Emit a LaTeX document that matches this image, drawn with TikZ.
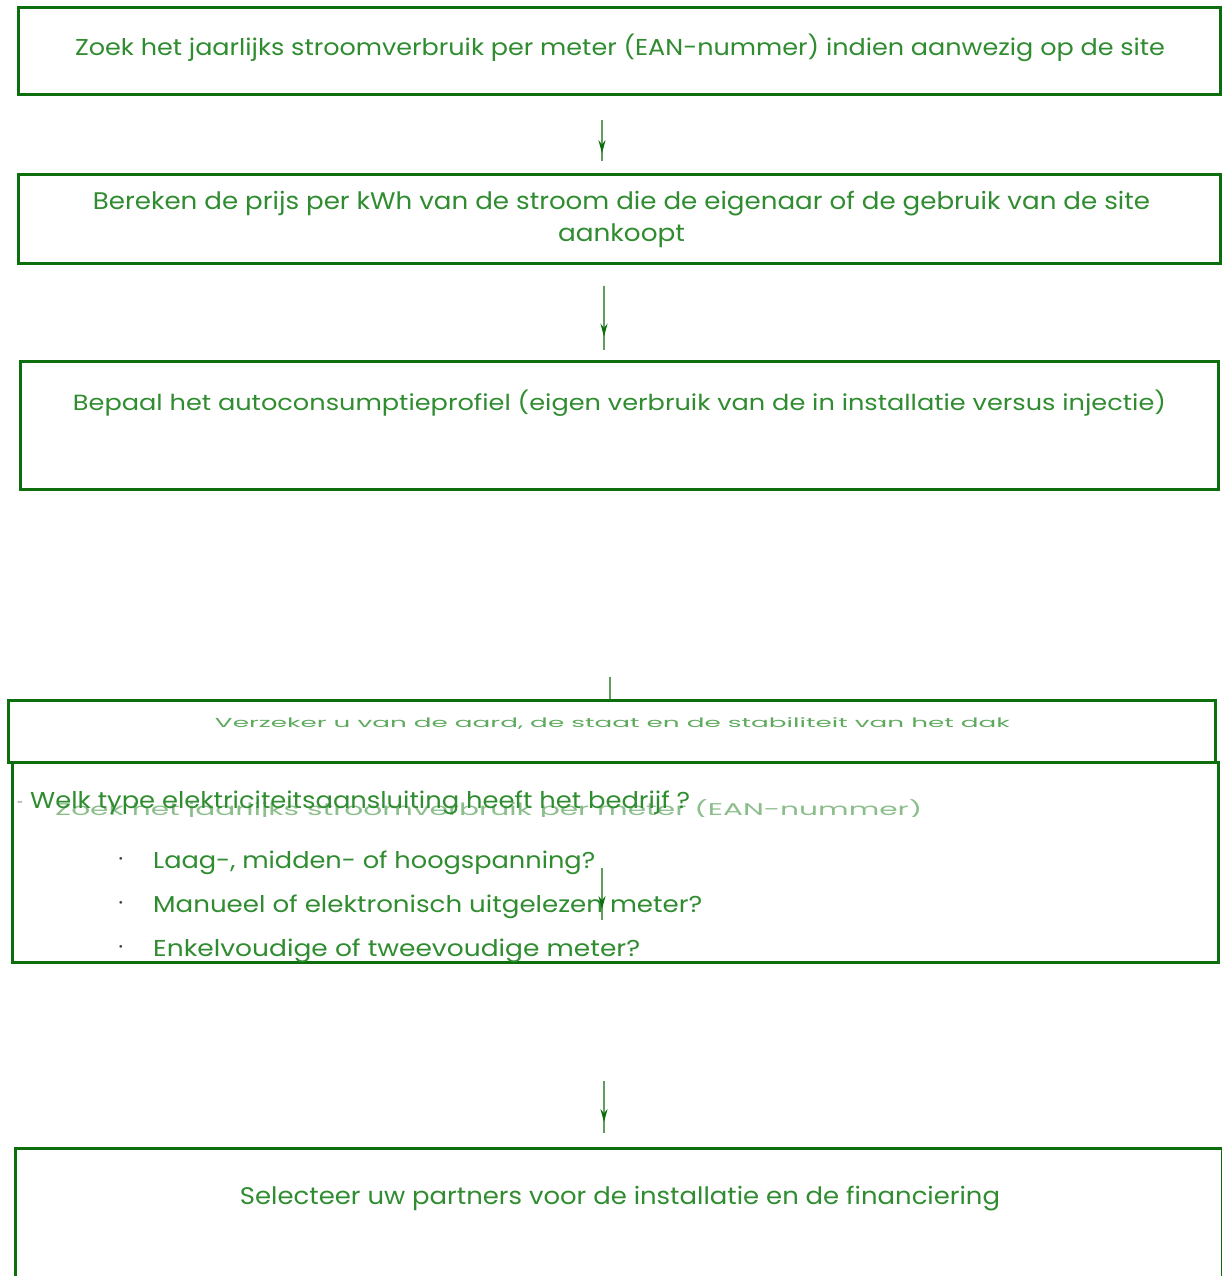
\documentclass[tikz,border=0pt]{standalone}
\usepackage{fontspec}
\setmainfont{Poppins}
\usetikzlibrary{arrows.meta,decorations.markings}
\definecolor{bordergreen}{RGB}{12,110,12}
\definecolor{textgreen}{RGB}{48,140,48}
\definecolor{palegreen}{RGB}{95,170,95}
\definecolor{fadegreen}{RGB}{140,190,140}
\definecolor{linegreen}{RGB}{95,158,95}
\newcommand{\fitto}[2]{\resizebox{#1}{\height}{#2}}
\tikzset{
  box/.style={draw=bordergreen, line width=3pt, rectangle, inner sep=0pt},
  txt/.style={text=textgreen, inner sep=0pt, anchor=base},
  conn/.style={draw=linegreen, line width=2pt, postaction={decorate},
    decoration={markings, mark=at position 0.8 with {\arrow[bordergreen]{Stealth[length=13pt,width=7pt]}}}},
  plainline/.style={draw=linegreen, line width=1.5pt},
  bul/.style={text=black!75, inner sep=0pt, anchor=base, font=\fontsize{11}{11}\selectfont},
}
\begin{document}
\begin{tikzpicture}[x=1pt,y=-1pt]
\useasboundingbox[fill=white] (0,0) rectangle (1221,1276);

% boxes
\node[box, minimum width=1202pt, minimum height=87pt]  (b1) at (619,51.5) {};
\node[box, minimum width=1202pt, minimum height=88pt]  (b2) at (619,219) {};
\node[box, minimum width=1198pt, minimum height=128pt] (b3) at (619,425) {};
\node[box, minimum width=1207pt, minimum height=62pt]  (b4) at (611.5,731) {};
\node[box, minimum width=1206pt, minimum height=200pt] (b5) at (615,862) {};
\node[box, minimum width=1207pt, minimum height=142pt] (b6) at (618.5,1219) {};

% texts
\node[txt, font=\fontsize{23}{23}\selectfont] (t1) at (620,56)
  {\fitto{1090pt}{Zoek het jaarlijks stroomverbruik per meter (EAN-nummer) indien aanwezig op de site}};
\node[txt, font=\fontsize{24}{24}\selectfont] (t2a) at (621.5,209)
  {\fitto{1057pt}{Bereken de prijs per kWh van de stroom die de eigenaar of de gebruik van de site}};
\node[txt, font=\fontsize{24}{24}\selectfont] (t2b) at (621.5,241)
  {\fitto{127pt}{aankoopt}};
\node[txt, font=\fontsize{22}{22}\selectfont] (t3) at (619.5,410)
  {\fitto{1093pt}{Bepaal het autoconsumptieprofiel (eigen verbruik van de in installatie versus injectie)}};
\node[txt, text=palegreen, font=\fontsize{13}{13}\selectfont] (t4) at (612.5,727)
  {\fitto{795pt}{Verzeker u van de aard, de staat en de stabiliteit van het dak}};

\begin{scope}
  \clip (0,790) rectangle (1221,816);
  \node[txt, anchor=base west, text=fadegreen, font=\fontsize{17}{17}\selectfont] (t5f) at (55,815)
    {\fitto{867pt}{Zoek het jaarlijks stroomverbruik per meter (EAN-nummer)}};
\end{scope}
\node[txt, anchor=base west, text=black!60, font=\fontsize{11}{11}\selectfont] (dash) at (17,806) {-};
\node[txt, anchor=base west, font=\fontsize{23}{23}\selectfont] (t5) at (30,808)
  {\fitto{660pt}{Welk type elektriciteitsaansluiting heeft het bedrijf ?}};
\node[bul] (u1) at (121,862) {\textbullet};
\node[bul] (u2) at (121,906) {\textbullet};
\node[bul] (u3) at (121,950) {\textbullet};
\node[txt, anchor=base west, font=\fontsize{23}{23}\selectfont] (l1) at (153,868)
  {\fitto{442pt}{Laag-, midden- of hoogspanning?}};
\node[txt, anchor=base west, font=\fontsize{23}{23}\selectfont] (l2) at (153,912)
  {\fitto{549pt}{Manueel of elektronisch uitgelezen meter?}};
\node[txt, anchor=base west, font=\fontsize{23}{23}\selectfont] (l3) at (153,956)
  {\fitto{487pt}{Enkelvoudige of tweevoudige meter?}};

\node[txt, font=\fontsize{24}{24}\selectfont] (t6) at (620,1204)
  {\fitto{760pt}{Selecteer uw partners voor de installatie en de financiering}};

% connectors
\draw[conn] ([xshift=-17pt,yshift=-24pt]b1.south) -- ([xshift=-17pt,yshift=12pt]b2.north);
\draw[conn] ([xshift=-15pt,yshift=-21pt]b2.south) -- ([xshift=-15pt,yshift=10pt]b3.north);
\draw[plainline] ([xshift=-9pt,yshift=-186pt]b3.south) -- ([xshift=-1.5pt]b4.north);
\draw[conn] ([xshift=-13pt,yshift=-107pt]b5.north) -- ([xshift=-13pt,yshift=-159pt]b5.north);
\draw[conn] ([xshift=-11pt,yshift=-117pt]b5.south) -- ([xshift=-14.5pt,yshift=14pt]b6.north);
\end{tikzpicture}
\end{document}
